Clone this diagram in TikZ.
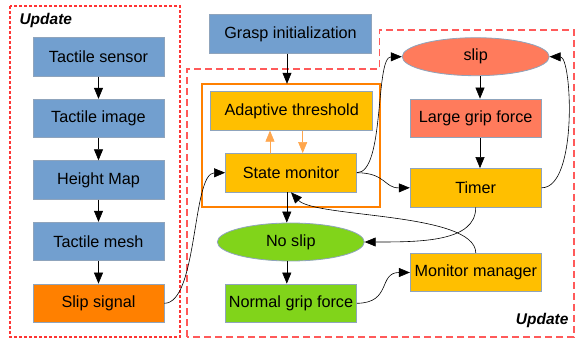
\documentclass[tikz,border=0pt]{standalone}
\usepackage{fontspec}
\setmainfont{Liberation Sans}
\usetikzlibrary{arrows.meta,shapes.geometric}
\definecolor{boxblue}{HTML}{729FCF}
\definecolor{boxorange}{HTML}{FF8000}
\definecolor{boxamber}{HTML}{FFBF00}
\definecolor{boxsalmon}{HTML}{FF7B5C}
\definecolor{boxgreen}{HTML}{81D41A}
\definecolor{edgegray}{HTML}{8FA4BC}
\definecolor{dashred}{HTML}{FF3333}
\definecolor{dashpink}{HTML}{FF5A5A}
\definecolor{frameorange}{HTML}{FF8000}
\tikzset{
  blk/.style={draw=edgegray, line width=0.8pt, minimum width=#1, minimum height=38.5pt,
              inner sep=0pt, font=\fontsize{16.2}{19}\selectfont},
  blk/.default=131pt,
  oval/.style={ellipse, draw=edgegray, line width=0.8pt, minimum width=147pt,
               minimum height=38pt, inner sep=0pt, font=\fontsize{16.2}{19}\selectfont},
  flow/.style={-{Triangle[length=11pt,width=9pt]}, line width=0.6pt, black},
  oflow/.style={-{Triangle[length=11pt,width=9pt]}, line width=0.6pt, boxorange!70},
  tag/.style={font=\fontsize{15.5}{18}\selectfont\bfseries\itshape}
}
\begin{document}
\begin{tikzpicture}[x=1pt,y=-1pt]
\useasboundingbox (0,0) rectangle (576,339);

% update regions
\draw[dashred, line width=1.3pt, dash pattern=on 3pt off 2pt] (10,6) rectangle (180,337);
\draw[dashpink, line width=1.1pt, dash pattern=on 7pt off 4pt]
  (187,337) -- (187,69) -- (379.5,69) -- (379.5,30) -- (574,30) -- (574,337) -- cycle;
\node[tag, anchor=west] (tagL) at (16,20) {Update};
\node[tag, anchor=east] (tagR) at (572,320) {Update};

% sensing chain
\node[blk, fill=boxblue]   (ts)  at (98.5,57)   {Tactile sensor};
\node[blk, fill=boxblue]   (ti)  at (98.5,118.5) {Tactile image};
\node[blk, fill=boxblue]   (hm)  at (98.5,180)  {Height Map};
\node[blk, fill=boxblue]   (tm)  at (98.5,241.5) {Tactile mesh};
\node[blk, fill=boxorange] (ss)  at (98.5,303.3) {Slip signal};

% monitoring block
\node[blk=162pt, fill=boxblue] (gi) at (290.5,34) {Grasp initialization};
\node[minimum width=178pt, minimum height=123pt, inner sep=0pt] (cont) at (291,145.5) {};
\draw[frameorange, line width=1.8pt] (cont.north west) rectangle (cont.south east);
\node[blk=162pt, fill=boxamber] (at) at (291.7,111) {Adaptive threshold};
\node[blk, fill=boxamber]  (sm)  at (291,172.7) {State monitor};

% slip branch
\node[oval, fill=boxsalmon] (sl) at (475.7,56.7) {slip};
\node[blk, fill=boxsalmon]  (lg) at (475.7,118.3) {Large grip force};
\node[blk, fill=boxamber]   (tr) at (475.7,187.8) {Timer};

% no-slip branch
\node[oval, fill=boxgreen]  (ns) at (290.8,242) {No slip};
\node[blk, fill=boxgreen]   (ng) at (291,303.3) {Normal grip force};
\node[blk, fill=boxamber]   (mm) at (475.8,272.5) {Monitor manager};

% straight links
\draw[flow] (ts) -- (ti);
\draw[flow] (ti) -- (hm);
\draw[flow] (hm) -- (tm);
\draw[flow] (tm) -- (ss);
\draw[flow] (gi.south -| cont.north) ++(-4,0) coordinate (gs) -- (gs |- cont.north);
\draw[flow] (sm.south -| ns.north) ++(-4,0) coordinate (sd) -- (sd |- ns.north);
\draw[flow] (ns.south) ++(-4,0) coordinate (nd) -- (nd |- ng.north);
\draw[flow] (sl.south) ++(4.3,0) coordinate (sld) -- (sld |- lg.north);
\draw[flow] (lg.south) ++(4.3,0) coordinate (lgd) -- (lgd |- tr.north);

% threshold feedback
\draw[oflow] (sm.north) ++(-21,0) coordinate (up) -- (up |- at.south);
\draw[oflow] (at.south) ++(11,0) coordinate (dn) -- (dn |- sm.north);

% curved links
\draw[flow] (ss.east) .. controls (198,303) and (192,173) .. (sm.west);
\draw[flow] (sm.east) .. controls (385,173) and (375,57) .. (sl.west);
\draw[flow] (sm.east) .. controls (386,173) and (384,188) .. (tr.west);
\draw[flow] (tr.east) .. controls (578,188) and (572,57) .. (sl.east);
\draw[flow] (tr.south) .. controls (476,242) and (420,242) .. (ns.east);
\draw[flow] (mm.north) .. controls (475,212) and (315,218) .. (sm.south);
\draw[flow] (ng.east) .. controls (392,303) and (378,272.5) .. (mm.west);
\end{tikzpicture}
\end{document}
